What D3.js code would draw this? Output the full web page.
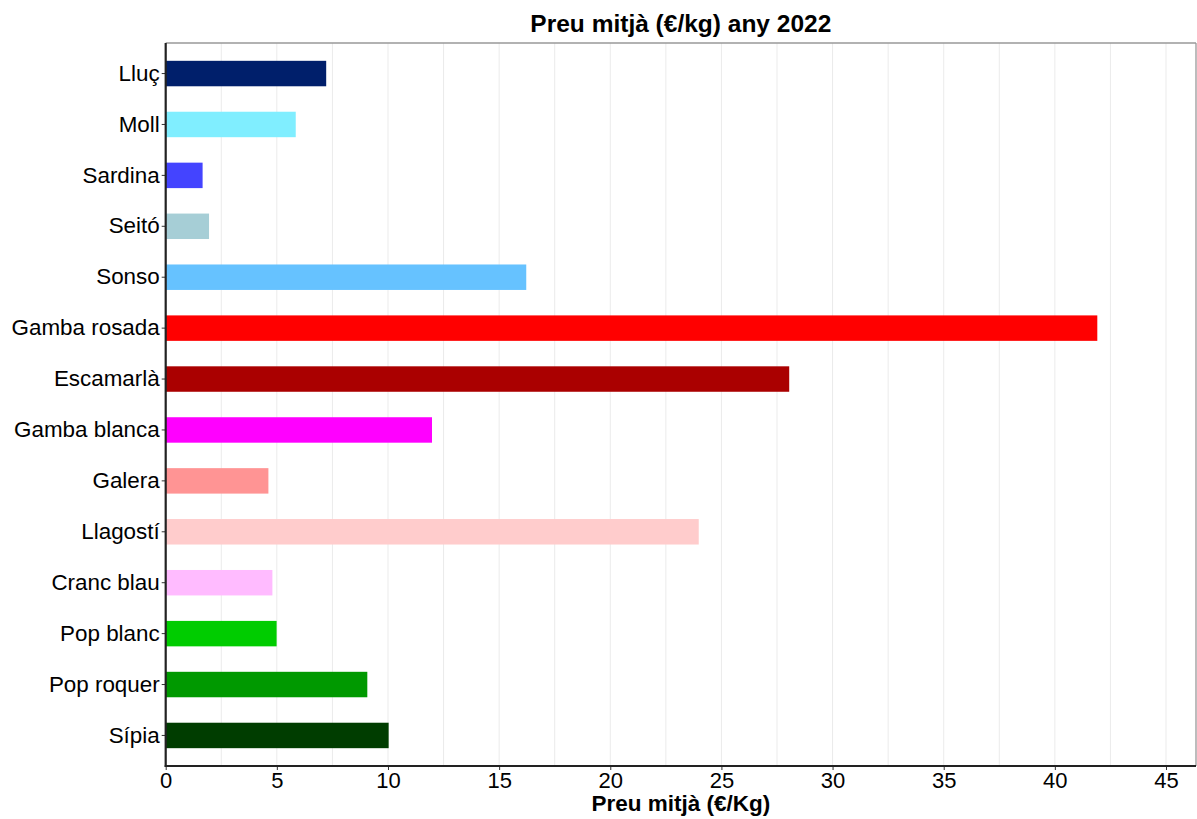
<!DOCTYPE html>
<html><head><meta charset="utf-8">
<script src="https://cdn.jsdelivr.net/npm/d3@7"></script>
<style>body{margin:0;background:#fff;font-family:"Liberation Sans",Arial,sans-serif;}</style>
</head><body>
<svg id="c" width="1197" height="819"></svg>
<script>
const categories = ["Lluç","Moll","Sardina","Seitó","Sonso","Gamba rosada","Escamarlà","Gamba blanca","Galera","Llagostí","Cranc blau","Pop blanc","Pop roquer","Sípia"];
const values = [7.22,5.85,1.66,1.95,16.22,41.91,28.05,11.98,4.62,23.98,4.80,4.99,9.07,10.03];
const colors = ["#001f6b","#80eeff","#4444ff","#a6ced6","#66c2ff","#ff0000","#aa0000","#ff00ff","#ff9494","#ffcccc","#ffbbff","#00cc00","#009900","#003d00"];
const xTicks = [0,5,10,15,20,25,30,35,40,45];
const minorTicks = [2.5,7.5,12.5,17.5,22.5,27.5,32.5,37.5,42.5];

const svg = d3.select("#c");
const L=165.7, R=1196, T=43, B=766;
const x = d3.scaleLinear().domain([0,46.35]).range([L,R]);
const y = d3.scaleBand().domain(categories).range([T,B]).paddingInner(0.5).paddingOuter(0.35);

svg.append("g").selectAll("line").data(xTicks.concat(minorTicks)).join("line")
  .attr("x1",d=>x(d)).attr("x2",d=>x(d)).attr("y1",T).attr("y2",B)
  .attr("stroke","#ebebeb").attr("stroke-width",1);

svg.append("line").attr("x1",L).attr("x2",R).attr("y1",T).attr("y2",T).attr("stroke","#999").attr("stroke-width",1.3);
svg.append("line").attr("x1",R).attr("x2",R).attr("y1",T).attr("y2",B).attr("stroke","#999").attr("stroke-width",1.3);

svg.append("g").selectAll("rect").data(categories).join("rect")
  .attr("x",x(0)).attr("y",d=>y(d)).attr("height",y.bandwidth())
  .attr("width",(d,i)=>x(values[i])-x(0))
  .attr("fill",(d,i)=>colors[i]);

const xAxis = svg.append("g").attr("transform",`translate(0,${B})`)
  .call(d3.axisBottom(x).tickValues(xTicks).tickSize(4).tickPadding(2));
xAxis.select(".domain").remove();
xAxis.selectAll(".tick line").attr("stroke","#333");
xAxis.selectAll("text").attr("font-size",22).attr("fill","#000").attr("font-family","Liberation Sans, Arial, sans-serif");
svg.append("line").attr("x1",L-1).attr("x2",R).attr("y1",B).attr("y2",B).attr("stroke","#222").attr("stroke-width",2.2);

const yAxis = svg.append("g").attr("transform",`translate(${L},0)`)
  .call(d3.axisLeft(y).tickSize(4).tickPadding(2));
yAxis.select(".domain").remove();
yAxis.selectAll(".tick line").attr("stroke","#333");
yAxis.selectAll("text").attr("font-size",22.4).attr("fill","#000").attr("font-family","Liberation Sans, Arial, sans-serif");
svg.append("line").attr("x1",L).attr("x2",L).attr("y1",T).attr("y2",B+1).attr("stroke","#222").attr("stroke-width",2.2);

svg.append("text").attr("x",(L+R)/2).attr("y",32).attr("text-anchor","middle")
  .attr("font-size",24.5).attr("font-weight","bold").text("Preu mitjà (€/kg) any 2022");
svg.append("text").attr("x",(L+R)/2).attr("y",811).attr("text-anchor","middle")
  .attr("font-size",22.5).attr("font-weight","bold").text("Preu mitjà (€/Kg)");
</script>
</body></html>
